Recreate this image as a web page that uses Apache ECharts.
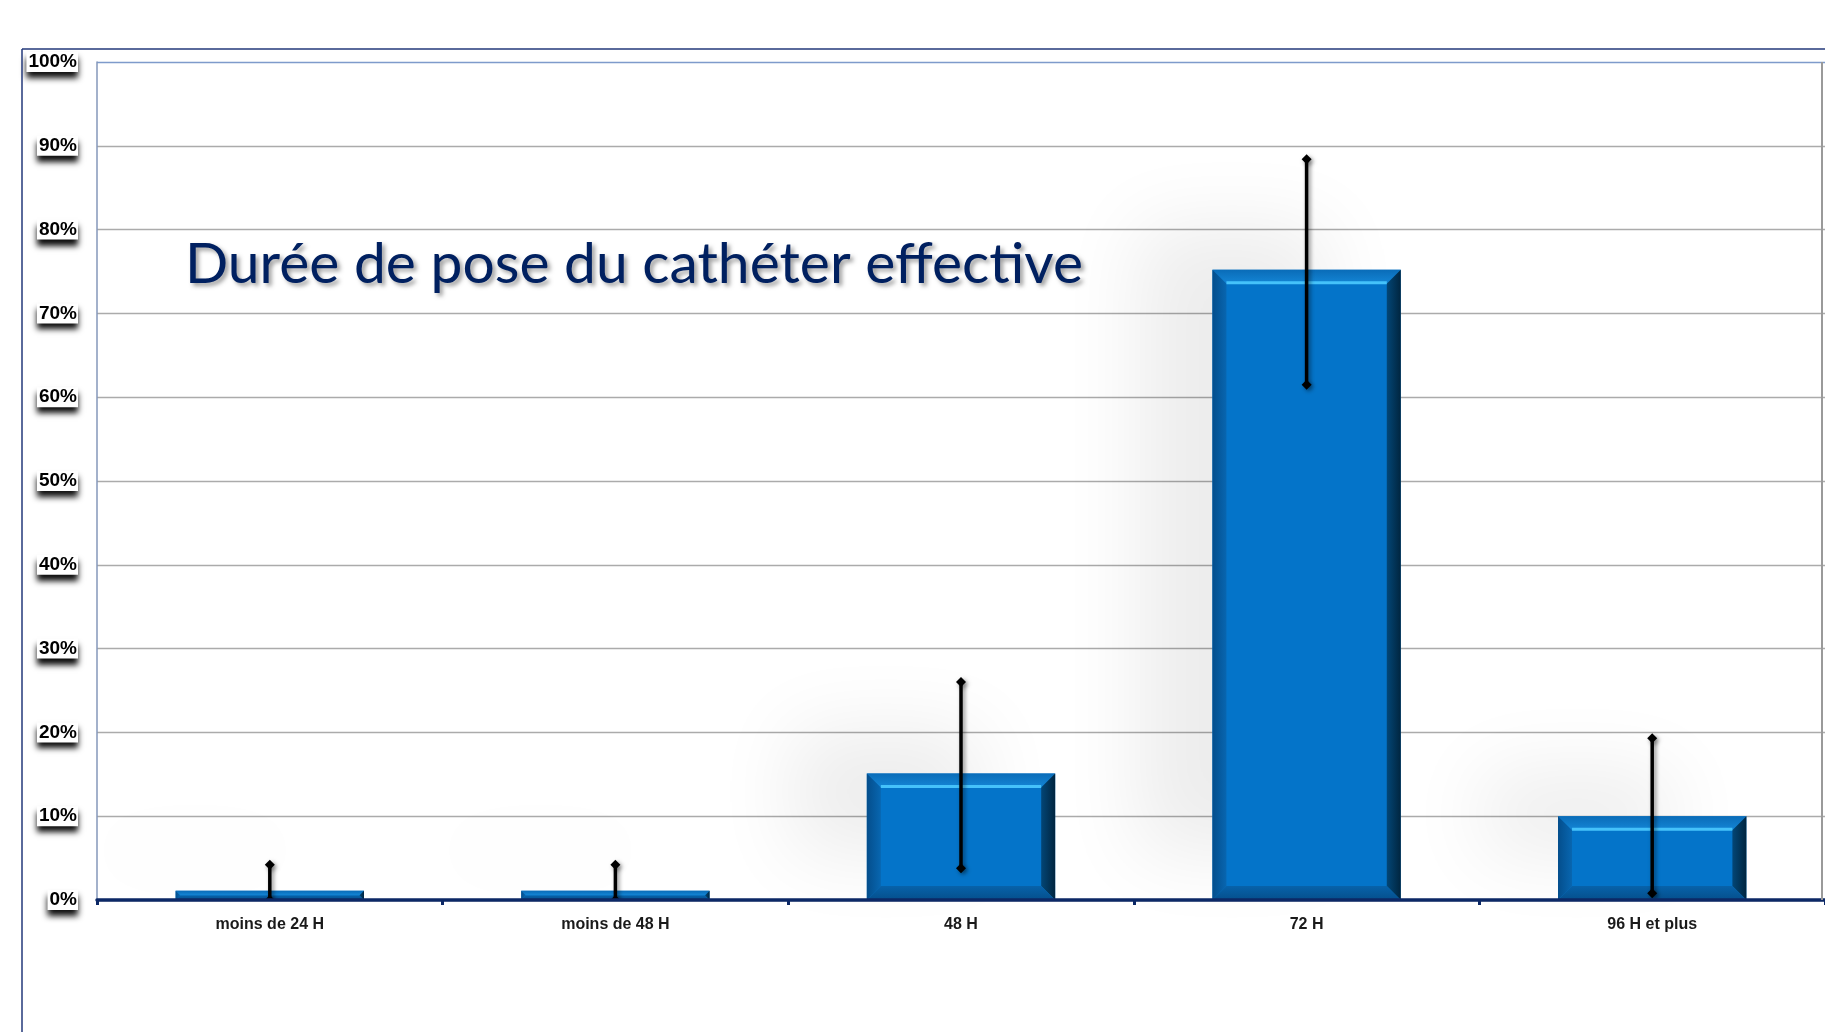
<!DOCTYPE html>
<html>
<head>
<meta charset="utf-8">
<script src="https://cdn.jsdelivr.net/npm/echarts@6/dist/echarts.min.js"></script>
<style>
html,body{margin:0;padding:0;background:#fff;}
#chart{width:1825px;height:1032px;}
</style>
</head>
<body>
<div id="chart"></div>
<script>
// ---- data ----
const categories = ['moins de 24 H', 'moins de 48 H', '48 H', '72 H', '96 H et plus'];
const values = [1.1, 1.1, 15.1, 75.2, 10.0];
const errLow = [0, 0, 3.8, 61.5, 0.8];
const errHigh = [4.2, 4.2, 26.0, 88.4, 19.3];
const yMin = 0, yMax = 100, yStep = 10;
const titleText = 'Durée de pose du cathéter effective';

const chart = echarts.init(document.getElementById('chart'), null, {renderer: 'canvas'});

// title horizontal fit (Calibri look-alike)
const TITLE_FONT = 57, TITLE_FAMILY = 'Lato';
const cv = document.createElement('canvas').getContext('2d');
cv.font = TITLE_FONT + 'px ' + TITLE_FAMILY;
const tW = cv.measureText(titleText).width;
const titleScaleX = 898 / tW;

function renderBar(params, api) {
  const i = api.value(0), v = api.value(1);
  const top = api.coord([i, v]);
  const base = api.coord([i, 0]);
  const bw = api.size([1, 0])[0] * 0.545;
  const x0 = top[0] - bw / 2, x1 = top[0] + bw / 2;
  const y0 = top[1], yB = base[1];
  const h = yB - y0;
  const b = Math.min(14, h / 2, bw / 2);
  const children = [];
  children.push({type: 'rect', shape: {x: x0, y: y0, width: bw, height: h},
    style: {fill: '#0474C9', shadowBlur: 80, shadowColor: 'rgba(0,0,0,0.075)', shadowOffsetX: -75, shadowOffsetY: -45}, z2: 1});
  // top bevel
  children.push({type: 'polygon', shape: {points: [[x0, y0], [x1, y0], [x1 - b, y0 + b], [x0 + b, y0 + b]]},
    style: {fill: new echarts.graphic.LinearGradient(0, 0, 0, 1, [{offset: 0, color: '#0A6CB8'}, {offset: 1, color: '#1486D6'}])}, z2: 2});
  // left bevel
  children.push({type: 'polygon', shape: {points: [[x0, y0], [x0 + b, y0 + b], [x0 + b, yB - b], [x0, yB]]},
    style: {fill: new echarts.graphic.LinearGradient(0, 0, 1, 0, [{offset: 0, color: '#044E8C'}, {offset: 1, color: '#0866B0'}])}, z2: 2});
  // right bevel
  children.push({type: 'polygon', shape: {points: [[x1, y0], [x1, yB], [x1 - b, yB - b], [x1 - b, y0 + b]]},
    style: {fill: new echarts.graphic.LinearGradient(0, 0, 1, 0, [{offset: 0, color: '#034676'}, {offset: 1, color: '#00253F'}])}, z2: 2});
  // bottom bevel
  children.push({type: 'polygon', shape: {points: [[x0, yB], [x1, yB], [x1 - b, yB - b], [x0 + b, yB - b]]},
    style: {fill: new echarts.graphic.LinearGradient(0, 0, 0, 1, [{offset: 0, color: '#0762AA'}, {offset: 1, color: '#054F8C'}])}, z2: 2});
  if (h > 20) {
    children.push({type: 'line', shape: {x1: x0 + b, y1: y0 + b - 1, x2: x1 - b, y2: y0 + b - 1},
      style: {stroke: '#45C2FA', lineWidth: 3}, z2: 3});
  }
  return {type: 'group', children: children};
}

function diamond(cx, cy, r) {
  return [[cx, cy - r], [cx + r, cy], [cx, cy + r], [cx - r, cy]];
}

function renderErr(params, api) {
  const i = api.value(0);
  const lo = api.coord([i, api.value(1)]);
  const hi = api.coord([i, api.value(2)]);
  const sh = {shadowBlur: 4, shadowColor: 'rgba(0,0,0,0.45)', shadowOffsetX: 2, shadowOffsetY: 2};
  return {
    type: 'group',
    children: [
      {type: 'line', shape: {x1: lo[0], y1: lo[1], x2: hi[0], y2: hi[1]},
        style: Object.assign({stroke: '#000', lineWidth: 3.5}, sh)},
      {type: 'polygon', shape: {points: diamond(hi[0], hi[1], 5)}, style: Object.assign({fill: '#000'}, sh)},
      {type: 'polygon', shape: {points: diamond(lo[0], lo[1], 5)}, style: Object.assign({fill: '#000'}, sh)}
    ]
  };
}

const splitColors = [];
for (let v = yMin; v <= yMax; v += yStep) splitColors.push(v === yMax ? '#7E9BCB' : '#ABABAB');

const option = {
  animation: false,
  backgroundColor: '#fff',
  grid: {left: 97, top: 62, width: 1732, height: 838, containLabel: false},
  xAxis: {
    type: 'category',
    data: categories,
    axisLine: {show: true, lineStyle: {color: '#0C2866', width: 3.5}},
    axisTick: {show: true, length: 5, lineStyle: {color: '#0C2866', width: 3}},
    axisLabel: {
      margin: 17,
      fontFamily: 'Liberation Sans, Arial, sans-serif',
      fontWeight: 'bold',
      fontSize: 16,
      color: '#1A1A1A'
    },
    z: 5
  },
  yAxis: {
    type: 'value',
    min: yMin, max: yMax, interval: yStep,
    axisLine: {show: true, lineStyle: {color: '#8497BA', width: 1.5}},
    axisTick: {show: false},
    splitLine: {show: true, lineStyle: {color: splitColors, width: 1.3}},
    axisLabel: {
      formatter: '{value}%',
      margin: 19,
      fontFamily: 'Liberation Sans, Arial, sans-serif',
      fontWeight: 'bold',
      fontSize: 19,
      color: '#000',
      backgroundColor: '#fff',
      padding: [1, 1, 0, 2],
      shadowColor: 'rgba(0,0,0,0.95)',
      shadowBlur: 6,
      shadowOffsetY: 6
    }
  },
  series: [
    {
      type: 'custom',
      name: 'bars',
      renderItem: renderBar,
      data: values.map((v, i) => [i, v]),
      encode: {x: 0, y: 1},
      z: 2,
      clip: false
    },
    {
      type: 'custom',
      name: 'err',
      renderItem: renderErr,
      data: values.map((v, i) => [i, errLow[i], errHigh[i]]),
      encode: {x: 0, y: [1, 2]},
      z: 3,
      clip: true
    }
  ],
  graphic: [
    {type: 'line', shape: {x1: 22, y1: 49, x2: 1825, y2: 49}, style: {stroke: '#23387A', lineWidth: 1.5}, z: 10, silent: true},
    {type: 'line', shape: {x1: 22, y1: 49, x2: 22, y2: 1032}, style: {stroke: '#23387A', lineWidth: 1.5}, z: 10, silent: true},
    {type: 'line', shape: {x1: 1822, y1: 62, x2: 1822, y2: 900}, style: {stroke: '#9A9A9A', lineWidth: 2}, z: 10, silent: true},
    {
      type: 'text', left: 185, top: 236, z: 20,
      scaleX: titleScaleX,
      originX: 0,
      style: {
        text: titleText,
        font: TITLE_FONT + 'px ' + TITLE_FAMILY,
        fill: '#002060',
        textShadowColor: 'rgba(0,0,0,0.38)',
        textShadowBlur: 4,
        textShadowOffsetX: 3,
        textShadowOffsetY: 3
      }
    }
  ]
};
chart.setOption(option);
</script>
</body>
</html>
